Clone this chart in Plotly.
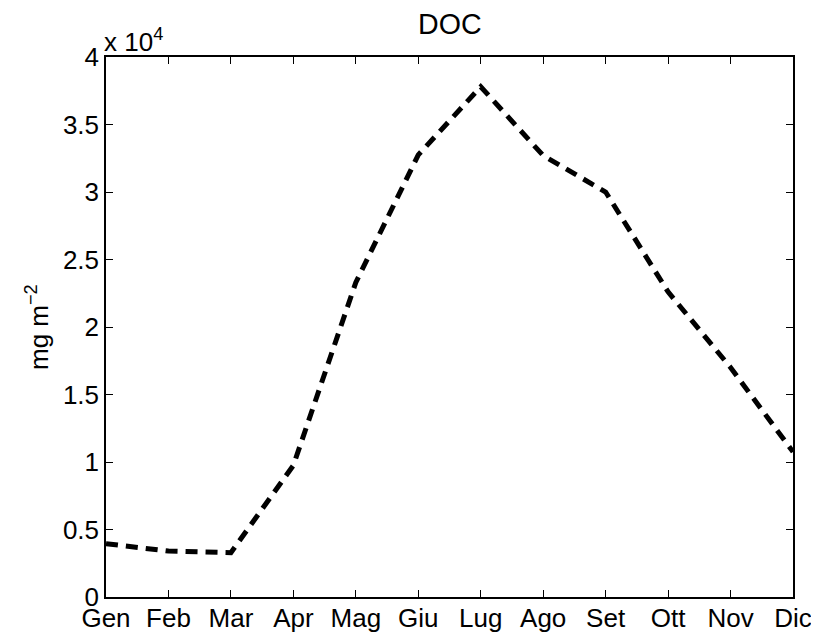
import plotly.graph_objects as go

months = ["Gen", "Feb", "Mar", "Apr", "Mag", "Giu", "Lug", "Ago", "Set", "Ott", "Nov", "Dic"]
doc = [3950, 3400, 3280, 9750, 23300, 32750, 37800, 32700, 30000, 22600, 17000, 10750]
ytick_vals = [0, 5000, 10000, 15000, 20000, 25000, 30000, 35000, 40000]
ytick_text = ["0", "0.5", "1", "1.5", "2", "2.5", "3", "3.5", "4"]

FONT = "Liberation Sans, Arial, sans-serif"
# page body has an 8px margin; compensate so the plot area lands at x 106-793, y 57-597
L, R, T, B = 98, 26, 49, 39

fig = go.Figure()
fig.add_trace(go.Scatter(
    x=list(range(len(months))), y=doc, mode="lines",
    line=dict(color="black", width=5, dash="12px,8px"),
    showlegend=False,
))

fig.update_layout(
    width=811, height=628,
    margin=dict(l=L, r=R, t=T, b=B, autoexpand=False),
    paper_bgcolor="white", plot_bgcolor="white",
    font=dict(family=FONT, size=26, color="black"),
)
fig.update_xaxes(
    range=[0, 11], tickvals=list(range(len(months))), ticktext=months,
    ticks="inside", ticklen=7, tickcolor="black", tickwidth=1,
    showline=True, linecolor="black", linewidth=1.5, mirror="allticks",
    showgrid=False, zeroline=False, tickfont=dict(size=26), automargin=False,
    ticklabelstandoff=-3,
)
fig.update_yaxes(
    range=[0, 40000], tickvals=ytick_vals, ticktext=ytick_text,
    ticks="inside", ticklen=7, tickcolor="black", tickwidth=1,
    showline=True, linecolor="black", linewidth=1.5, mirror="allticks",
    showgrid=False, zeroline=False, tickfont=dict(size=26), automargin=False,
)
# title
fig.add_annotation(
    text="DOC", xref="paper", yref="paper", x=0.5, y=1, yshift=15,
    xanchor="center", yanchor="bottom", showarrow=False,
    font=dict(family=FONT, size=28.6, color="black"),
)
# exponent
fig.add_annotation(
    text="x 10<sup>4</sup>", xref="paper", yref="paper", x=0, y=1,
    xanchor="left", yanchor="bottom", showarrow=False,
    font=dict(family=FONT, size=26, color="black"), yshift=-2, xshift=-4,
)
# y label
fig.add_annotation(
    text="mg m<sup>−2</sup>", xref="paper", yref="paper", x=0, y=0.5,
    xanchor="center", yanchor="middle", showarrow=False, textangle=-90,
    font=dict(family=FONT, size=26, color="black"), xshift=-69,
)
fig.write_html("out.html")
